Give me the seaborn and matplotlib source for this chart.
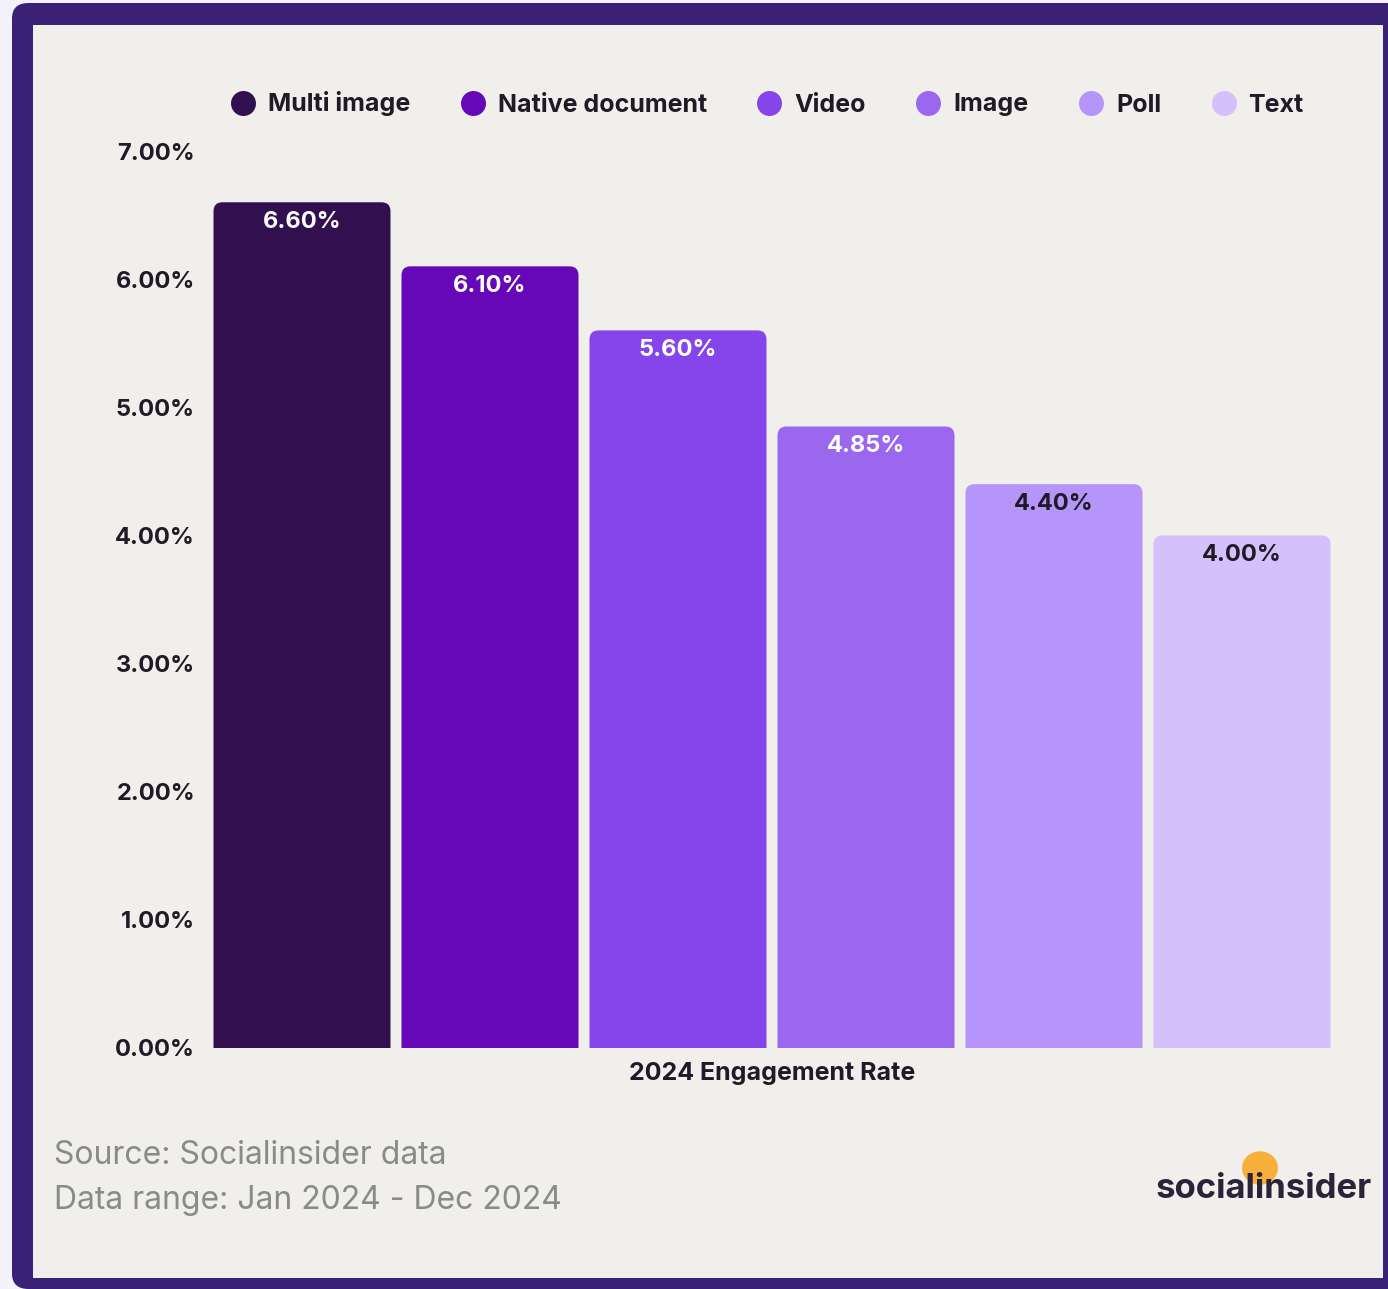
import matplotlib
matplotlib.use("Agg")
import matplotlib.pyplot as plt
from matplotlib.patches import FancyBboxPatch, Rectangle, Circle
from matplotlib.lines import Line2D
import seaborn as sns
import pandas as pd

# ---- data ----
formats = ["Multi image", "Native document", "Video", "Image", "Poll", "Text"]
engagement = [6.60, 6.10, 5.60, 4.85, 4.40, 4.00]
category = ["2024 Engagement Rate"]
colors = ["#321050", "#6608b8", "#8645ea", "#9a67ee", "#b595f9", "#d4c0fa"]
label_colors = ["white", "white", "white", "white", "#1e1a26", "#1e1a26"]
yticks = [0, 1, 2, 3, 4, 5, 6, 7]

df = pd.DataFrame({"category": category * len(formats), "format": formats, "rate": engagement})

sns.set_theme(style="white")
FONT = ["Inter", "DejaVu Sans"]
plt.rcParams["font.family"] = FONT

W, H = 1388, 1289
fig = plt.figure(figsize=(W / 100, H / 100), dpi=100)
fig.patch.set_facecolor("#f3f2fb")

# frame
fig.patches.append(FancyBboxPatch((12 / W, 0), (W + 40 - 12) / W, (H - 3) / H,
                                  boxstyle="round,pad=0,rounding_size=0.012",
                                  transform=fig.transFigure, facecolor="#3a2175",
                                  edgecolor="none", zorder=0))
fig.patches.append(Rectangle((33 / W, 1 - 1278 / H), (1383 - 33) / W, (1278 - 25) / H,
                             transform=fig.transFigure, facecolor="#f0efec",
                             edgecolor="none", zorder=1))

ax = fig.add_axes([213 / W, 1 - 1048 / H, 1118 / W, (1048 - 151) / H])
ax.set_facecolor("none")
ax.set_zorder(3)

sns.barplot(data=df, x="category", y="rate", hue="format", hue_order=formats,
            palette=colors, width=1.0, gap=0.0585, saturation=1, legend=False, ax=ax)

half = 0.5 * 1118 / 1128
ax.set_xlim(-half, half)
ax.set_ylim(0, 7)

# replace with rounded-top bars
px_x = (2 * half) / 1118
px_y = 7.0 / (1048 - 151)
r = 9 * px_x
bars = list(ax.patches)
for i, p in enumerate(bars):
    x0, w, h = p.get_x(), p.get_width(), p.get_height()
    fc = p.get_facecolor()
    p.remove()
    fb = FancyBboxPatch((x0, -0.3), w, h + 0.3,
                        boxstyle=f"round,pad=0,rounding_size={r}",
                        mutation_aspect=px_y / px_x,
                        facecolor=fc, edgecolor="none", zorder=2)
    ax.add_patch(fb)
    ax.annotate(f"{engagement[i]:.2f}%", (x0 + w / 2, h), xytext=(0, -14),
                textcoords="offset points", ha="center", va="center",
                fontsize=17, fontweight="bold", color=label_colors[i], zorder=3)

for s in ax.spines.values():
    s.set_visible(False)
ax.set_yticks(yticks)
ax.set_yticklabels([f"{v:.2f}%" for v in yticks])
ax.tick_params(axis="y", length=0, pad=13, labelsize=17, labelcolor="#1e1a26")
ax.tick_params(axis="x", length=0, pad=10, labelsize=18, labelcolor="#1e1a26")
for t in ax.get_yticklabels() + ax.get_xticklabels():
    t.set_fontweight("bold")
ax.set_xlabel("")
ax.set_ylabel("")
ax.grid(False)

# legend
handles = [Line2D([0], [0], marker="o", linestyle="none", markersize=18,
                  markerfacecolor=c, markeredgecolor="none") for c in colors]
leg = fig.legend(handles, formats, loc="center", bbox_to_anchor=(767 / W, 1 - 104 / H),
                 ncol=6, frameon=False, handletextpad=0.5, columnspacing=2.0,
                 handlelength=1.0, prop={"size": 18, "weight": "bold", "family": FONT})
leg.set_zorder(4)
for t in leg.get_texts():
    t.set_color("#1e1a26")

# source
fig.text(54 / W, 1 - 1156 / H, "Source: Socialinsider data", fontsize=23,
         color="#8a8a8a", va="center", ha="left", zorder=4)
fig.text(54 / W, 1 - 1200 / H, "Data range: Jan 2024 - Dec 2024", fontsize=23,
         color="#8a8a8a", va="center", ha="left", zorder=4)

# logo
fig.patches.append(Circle((1260 / W, 1 - 1168 / H), 18 / W, transform=fig.transFigure,
                          facecolor="#f7b03c", edgecolor="none", zorder=3))
fig.text(1264 / W, 1 - 1189 / H, "socialinsider", fontsize=25, fontweight="bold",
         color="#2a2438", ha="center", va="center", zorder=4)

fig.savefig("out.png", dpi=100, facecolor=fig.get_facecolor())
